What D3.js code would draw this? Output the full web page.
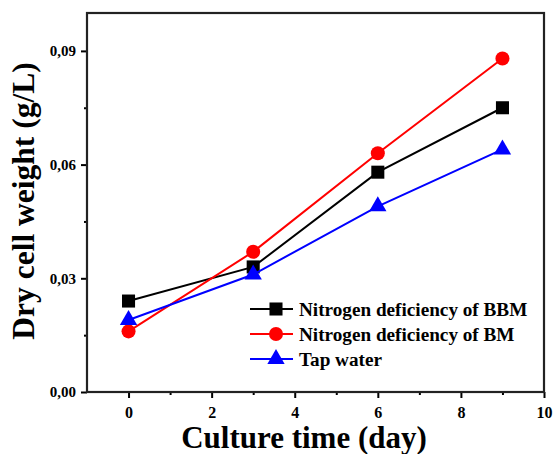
<!DOCTYPE html>
<html>
<head>
<meta charset="utf-8">
<script src="https://cdn.jsdelivr.net/npm/d3@7"></script>
<style>
  body { margin: 0; background: #fff; }
</style>
</head>
<body>
<div id="content"></div>
<script>
let width = 556;
let height = 454;
let margin = ({top: 13, right: 12, bottom: 62, left: 87});
let serif = "'Liberation Serif', 'Times New Roman', serif";

// Data
let days = [0, 3, 6, 9];
let bbm = [0.024, 0.033, 0.058, 0.075];
let bm = [0.016, 0.037, 0.063, 0.088];
let tap = [0.019, 0.031, 0.049, 0.064];
let seriesNames = ["Nitrogen deficiency of BBM", "Nitrogen deficiency of BM", "Tap water"];
let xTicks = [0, 2, 4, 6, 8, 10];
let yTicks = [0, 0.03, 0.06, 0.09];

let series = [
    {name: seriesNames[0], values: bbm, color: "#000000", shape: d3.symbolSquare, size: 170},
    {name: seriesNames[1], values: bm, color: "#ff0000", shape: d3.symbolCircle, size: 155},
    {name: seriesNames[2], values: tap, color: "#0000ff", shape: d3.symbolTriangle, size: 130}
];

let svg = d3.select("#content")
    .append("svg")
    .attr("width", width)
    .attr("height", height);

let x = d3.scaleLinear().domain([-1, 10]).range([margin.left, width - margin.right]);
let y = d3.scaleLinear().domain([0, 0.1]).range([height - margin.bottom, margin.top]);

let comma = d => d3.format(".2f")(d).replace(".", ",");

// minor ticks
svg.append("g")
    .attr("transform", "translate(0," + (height - margin.bottom) + ")")
    .call(d3.axisBottom(x).tickValues([1, 3, 5, 7, 9]).tickSize(3).tickFormat(""))
    .call(g => g.select(".domain").remove());
svg.append("g")
    .attr("transform", "translate(" + margin.left + ",0)")
    .call(d3.axisLeft(y).tickValues([0.015, 0.045, 0.075]).tickSize(3).tickFormat(""))
    .call(g => g.select(".domain").remove());

let xAxis = svg.append("g")
    .attr("transform", "translate(0," + (height - margin.bottom) + ")")
    .call(d3.axisBottom(x).tickValues(xTicks).tickSize(6).tickPadding(9));
xAxis.select(".domain").remove();
xAxis.selectAll("text")
    .style("font-family", serif).style("font-weight", "bold")
    .style("font-size", "16px").attr("fill", "#000");

let yAxis = svg.append("g")
    .attr("transform", "translate(" + margin.left + ",0)")
    .call(d3.axisLeft(y).tickValues(yTicks).tickSize(6).tickPadding(5).tickFormat(comma));
yAxis.select(".domain").remove();
yAxis.selectAll("text")
    .style("font-family", serif).style("font-weight", "bold")
    .style("font-size", "15px").attr("fill", "#000");

svg.selectAll(".tick line").attr("stroke", "#000").attr("stroke-width", 2);

// frame
svg.append("rect")
    .attr("x", margin.left)
    .attr("y", margin.top)
    .attr("width", width - margin.left - margin.right)
    .attr("height", height - margin.top - margin.bottom)
    .attr("fill", "none")
    .attr("stroke", "#222")
    .attr("stroke-width", 2.2);

let line = d3.line()
    .x((d, i) => x(days[i]))
    .y(d => y(d));

series.forEach(s => {
    svg.append("path")
        .attr("d", line(s.values))
        .attr("fill", "none")
        .attr("stroke", s.color)
        .attr("stroke-width", 2);
    svg.selectAll(null)
        .data(s.values)
        .enter()
        .append("path")
        .attr("transform", (d, i) => "translate(" + x(days[i]) + "," + y(d) + ")")
        .attr("d", d3.symbol().type(s.shape).size(s.size))
        .attr("fill", s.color);
});

// legend
let legend = svg.append("g").attr("transform", "translate(250,309)");
series.forEach((s, i) => {
    let row = legend.append("g").attr("transform", "translate(0," + (i * 25) + ")");
    row.append("line")
        .attr("x1", 0).attr("x2", 43)
        .attr("stroke", s.color).attr("stroke-width", 2);
    row.append("path")
        .attr("transform", "translate(26,0)")
        .attr("d", d3.symbol().type(s.shape).size(s.size))
        .attr("fill", s.color);
    row.append("text")
        .attr("x", 49)
        .attr("dy", "0.35em")
        .style("font-family", serif).style("font-weight", "bold")
        .style("font-size", "19.2px")
        .text(s.name);
});

// axis titles
svg.append("text")
    .attr("x", 304)
    .attr("y", 448)
    .attr("text-anchor", "middle")
    .style("font-family", serif).style("font-weight", "bold")
    .style("font-size", "31px")
    .text("Culture time (day)");

svg.append("text")
    .attr("transform", "translate(34,201) rotate(-90)")
    .attr("text-anchor", "middle")
    .style("font-family", serif).style("font-weight", "bold")
    .style("font-size", "31.5px")
    .text("Dry cell weight (g/L)");
</script>
</body>
</html>
